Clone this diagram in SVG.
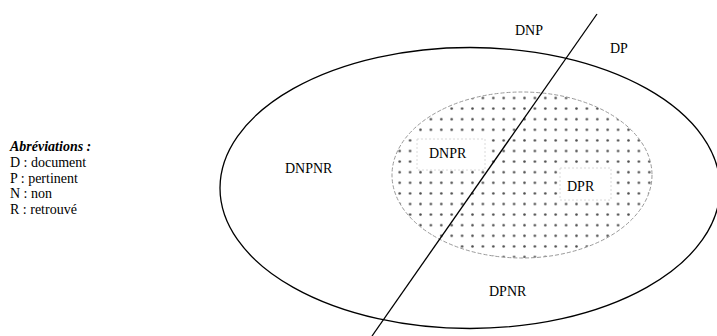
<svg xmlns="http://www.w3.org/2000/svg" width="717" height="336" viewBox="0 0 717 336">
  <style>
    text { font-family: "Liberation Serif", "DejaVu Serif", serif; fill: #000; }
    .lbl { font-size: 14px; }
    .leg { font-size: 14px; }
    .legt { font-weight: bold; font-style: italic; }
    .outer { fill: none; stroke: #000; stroke-width: 1.3; }
    .inner { fill: url(#dots); stroke: #9a9a9a; stroke-width: 1; stroke-dasharray: 4 2; }
    .hole { fill: #fff; stroke: #d0d0d0; stroke-width: 0.8; stroke-dasharray: 2 2; }
    .sep { stroke: #000; stroke-width: 1.3; fill: none; }
  </style>
  <defs>
    <pattern id="dots" patternUnits="userSpaceOnUse" x="488.1" y="198.7" width="10.4" height="10.6">
      <rect width="10.4" height="10.6" fill="#fff"/>
      <circle cx="5.2" cy="5.3" r="1.3" fill="#4a4a4a"/>
    </pattern>
  </defs>
  <rect width="717" height="336" fill="#fff"/>

  <g id="legend">
    <text class="leg legt" x="10" y="151">Abréviations :</text>
    <text class="leg" x="10" y="167">D : document</text>
    <text class="leg" x="10" y="183">P : pertinent</text>
    <text class="leg" x="10" y="198">N : non</text>
    <text class="leg" x="10" y="214">R : retrouvé</text>
  </g>

  <g id="documents">
    <ellipse class="outer" cx="470" cy="188" rx="250" ry="140.5"/>
  </g>

  <g id="retrouves">
    <ellipse class="inner" cx="522" cy="175" rx="130" ry="83"/>
  </g>

  <g id="DNPR">
    <rect class="hole" x="417" y="139" width="68" height="31"/>
    <text class="lbl" x="429" y="158">DNPR</text>
  </g>

  <g id="DPR">
    <rect class="hole" x="560" y="168" width="51" height="32"/>
    <text class="lbl" x="567" y="191">DPR</text>
  </g>

  <g id="connectors">
    <line class="sep" x1="597" y1="14" x2="372" y2="336"/>
  </g>

  <g id="DNP"><text class="lbl" x="515" y="35">DNP</text></g>
  <g id="DP"><text class="lbl" x="610" y="53">DP</text></g>
  <g id="DNPNR"><text class="lbl" x="285" y="173">DNPNR</text></g>
  <g id="DPNR"><text class="lbl" x="489" y="296">DPNR</text></g>
</svg>
